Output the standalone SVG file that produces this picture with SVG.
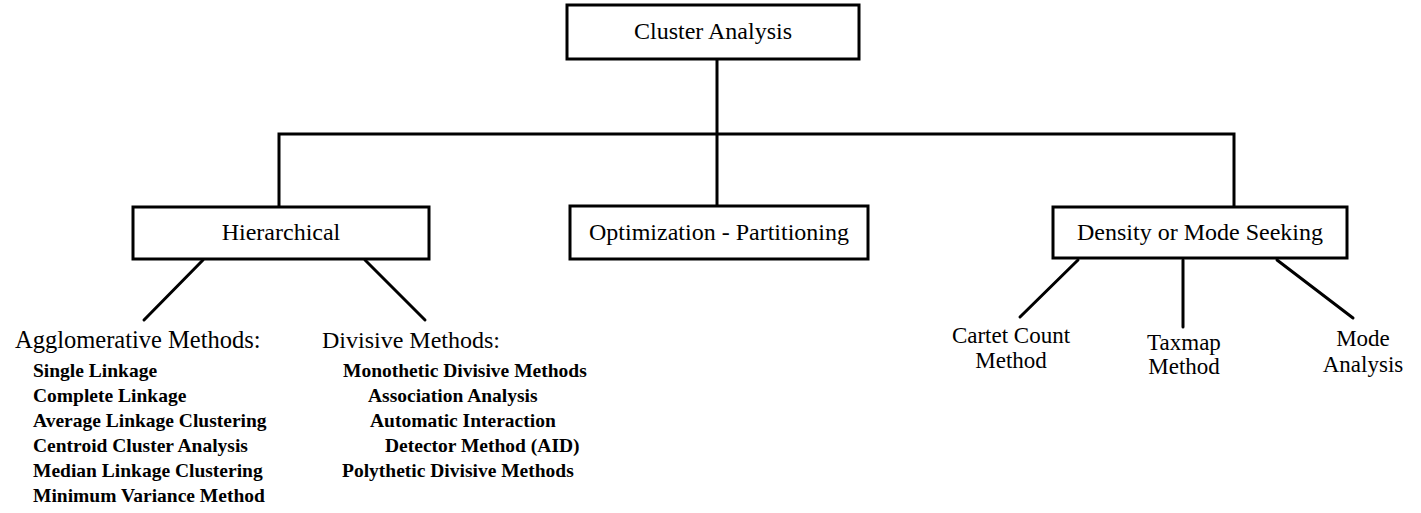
<svg xmlns="http://www.w3.org/2000/svg" width="1421" height="513" viewBox="0 0 1421 513">
<style>
.box{fill:#fff;stroke:#000;stroke-width:3}
.ln{stroke:#000;stroke-width:3;fill:none;stroke-linecap:round}
.bt{font-family:"Liberation Serif",serif;font-size:24px;fill:#000;text-anchor:middle}
.hd{font-family:"Liberation Serif",serif;font-size:24px;fill:#000}
.it{font-family:"Liberation Serif",serif;font-size:19.5px;font-weight:bold;fill:#000}
.lf{font-family:"Liberation Serif",serif;font-size:23px;fill:#000;text-anchor:middle}
</style>
<rect width="1421" height="513" fill="#fff"/>
<g id="connectors">
<path class="ln" d="M717 59 V206"/>
<path class="ln" d="M279 207 V134 H1234 V207"/>
<path class="ln" d="M203 260 L144 320"/>
<path class="ln" d="M365 260 L425 320"/>
<path class="ln" d="M1078 260 L1020 317"/>
<path class="ln" d="M1183 260 V327"/>
<path class="ln" d="M1277 260 L1353 318"/>
</g>
<g id="cluster-analysis">
<rect class="box" x="567" y="5" width="292" height="54"/>
<text class="bt" x="713" y="39">Cluster Analysis</text>
</g>
<g id="hierarchical">
<rect class="box" x="133" y="207" width="296" height="52"/>
<text class="bt" x="281" y="240">Hierarchical</text>
</g>
<g id="optimization">
<rect class="box" x="570" y="206" width="298" height="53"/>
<text class="bt" x="719" y="240">Optimization - Partitioning</text>
</g>
<g id="density">
<rect class="box" x="1053" y="207" width="294" height="51"/>
<text class="bt" x="1200" y="240">Density or Mode Seeking</text>
</g>
<g id="agglomerative">
<text class="hd" x="15" y="348" style="font-size:24.5px">Agglomerative Methods:</text>
<text class="it" x="33" y="377">Single Linkage</text>
<text class="it" x="33" y="402">Complete Linkage</text>
<text class="it" x="33" y="427">Average Linkage Clustering</text>
<text class="it" x="33" y="452">Centroid Cluster Analysis</text>
<text class="it" x="33" y="477">Median Linkage Clustering</text>
<text class="it" x="33" y="502">Minimum Variance Method</text>
</g>
<g id="divisive">
<text class="hd" x="322" y="348">Divisive Methods:</text>
<text class="it" x="343" y="377">Monothetic Divisive Methods</text>
<text class="it" x="368" y="402">Association Analysis</text>
<text class="it" x="370" y="427">Automatic Interaction</text>
<text class="it" x="385" y="452">Detector Method (AID)</text>
<text class="it" x="342" y="477">Polythetic Divisive Methods</text>
</g>
<g id="cartet">
<text class="lf" x="1011" y="343">Cartet Count</text>
<text class="lf" x="1011" y="368">Method</text>
</g>
<g id="taxmap">
<text class="lf" x="1184" y="350">Taxmap</text>
<text class="lf" x="1184" y="374">Method</text>
</g>
<g id="mode">
<text class="lf" x="1363" y="346">Mode</text>
<text class="lf" x="1363" y="372">Analysis</text>
</g>
</svg>
